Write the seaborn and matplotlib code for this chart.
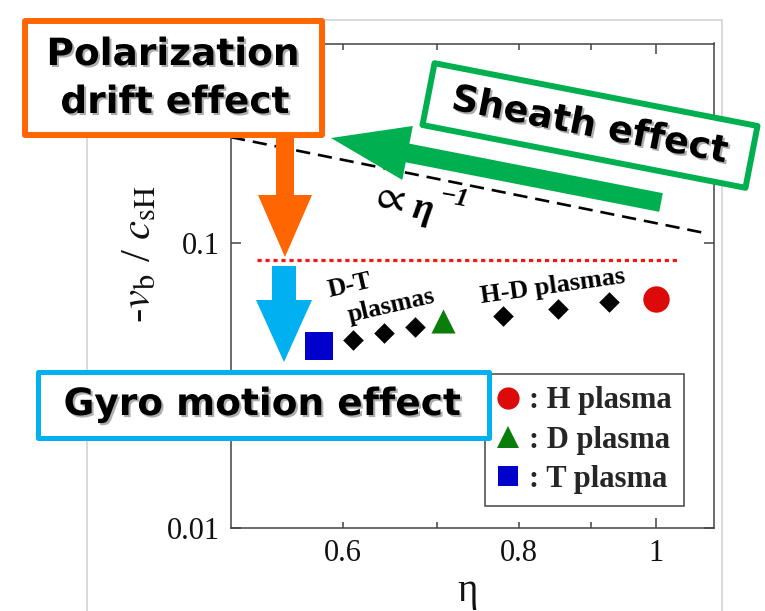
import matplotlib
matplotlib.use('Agg')
import matplotlib.pyplot as plt
import seaborn as sns
from matplotlib.patches import Rectangle, FancyArrow
from matplotlib.lines import Line2D
from matplotlib.ticker import FixedLocator, FixedFormatter, NullLocator
import matplotlib.patheffects as pe

# ---------------- data ----------------
eta_dt = [0.610, 0.642, 0.675]
vb_dt = [0.0458, 0.0481, 0.0507]
eta_hd = [0.780, 0.853, 0.927]
vb_hd = [0.0556, 0.0587, 0.0619]
eta_h = [1.0]
vb_h = [0.0636]
eta_d = [0.707]
vb_d = [0.0531]
eta_t = [0.577]
vb_t = [0.0433]
eta_ref = [0.5, 1.085]         # dashed  "∝ η^-1" guide line
vb_ref = [0.2346, 0.1081]
eta_lim = [0.522, 1.040]       # red dotted level
vb_lim = [0.087, 0.087]

xtick_major = [1]
xtick_major_labels = ['1']
xtick_minor = [0.6, 0.7, 0.8, 0.9]
xtick_minor_labels = ['0.6', '', '0.8', '']
ytick_vals = [0.01, 0.1]
ytick_labels = ['0.01', '0.1']
legend_labels = [': H plasma', ': D plasma', ': T plasma']

# ---------------- style ----------------
sns.set_theme(style='ticks')
plt.rcParams['font.family'] = ['Liberation Serif', 'DejaVu Serif']
plt.rcParams['mathtext.fontset'] = 'stix'

W, H = 765, 611
fig = plt.figure(figsize=(W / 100, H / 100), dpi=100)
fig.patch.set_facecolor('white')
ax = fig.add_axes([231 / W, (H - 528) / H, (714 - 231) / W, (528 - 43.5) / H])

RED, GREEN, BLUE = '#dd0a0a', '#0b7d0b', '#0000cc'

# outer light-gray frame of the embedded figure
fig.add_artist(Rectangle((0.87, -0.3), 6.35, (H - 19.5) / 100 + 0.3, fill=False,
                         ec='#cfcfcf', lw=1.1, transform=fig.dpi_scale_trans, zorder=0))

# ---------------- lines ----------------
sns.lineplot(x=eta_ref, y=vb_ref, ax=ax, color='black', lw=1.9,
             linestyle=(0, (5.4, 3.0)), estimator=None, sort=False, zorder=2)
sns.lineplot(x=eta_lim, y=vb_lim, ax=ax, color='#ff1010', lw=2.3,
             linestyle=(0, (1.3, 1.2)), estimator=None, sort=False, zorder=2)

# ---------------- points ----------------
sns.scatterplot(x=eta_dt + eta_hd, y=vb_dt + vb_hd, marker='D', s=110,
                color='black', linewidth=0, ax=ax, zorder=3)
sns.scatterplot(x=eta_h, y=vb_h, marker='o', s=361, color=RED, linewidth=0, ax=ax, zorder=3)
sns.scatterplot(x=eta_d, y=vb_d, marker='^', s=300, color=GREEN, linewidth=0, ax=ax, zorder=3)
sns.scatterplot(x=eta_t, y=vb_t, marker='s', s=400, color=BLUE, linewidth=0, ax=ax, zorder=3)

# ---------------- axes ----------------
ax.set_xscale('log')
ax.set_yscale('log')
ax.set_xlim(0.5, 1.1)
ax.set_ylim(0.01, 0.5)
ax.xaxis.set_major_locator(FixedLocator(xtick_major))
ax.xaxis.set_major_formatter(FixedFormatter(xtick_major_labels))
ax.xaxis.set_minor_locator(FixedLocator(xtick_minor))
ax.xaxis.set_minor_formatter(FixedFormatter(xtick_minor_labels))
ax.yaxis.set_major_locator(FixedLocator(ytick_vals))
ax.yaxis.set_major_formatter(FixedFormatter(ytick_labels))
ax.yaxis.set_minor_locator(NullLocator())
ax.tick_params(which='both', direction='in', top=True, right=True, color='#444444',
               labelcolor='#111111', labelsize=22, width=1.1)
ax.tick_params(which='major', length=7, pad=8)
ax.tick_params(which='minor', length=4.3, pad=8)
for s in ax.spines.values():
    s.set_color('#444444')
    s.set_linewidth(1.1)

ax.set_xlabel('η', fontsize=28, color='#111111')
ax.xaxis.set_label_coords(0.489, -0.093)
ax.set_ylabel(r'-$\mathit{v}_{\mathrm{b}}$ / $\mathit{c}_{\mathrm{sH}}$', fontsize=31, color='#111111')
ax.yaxis.set_label_coords(-0.148, 0.565)

# ---------------- legend ----------------
handles = [Line2D([], [], ls='', marker='o', color=RED, ms=16, mew=0),
           Line2D([], [], ls='', marker='^', color=GREEN, ms=16, mew=0),
           Line2D([], [], ls='', marker='s', color=BLUE, ms=14.5, mew=0)]
leg = ax.legend(handles, legend_labels, loc='upper left',
                bbox_to_anchor=(485 / W, 1 - 374 / H), bbox_transform=fig.transFigure,
                frameon=True, fancybox=False, edgecolor='#444444', framealpha=1,
                borderaxespad=0, prop={'weight': 'bold', 'size': 22},
                handlelength=0.72, handletextpad=0.32, labelspacing=0.34, borderpad=0.4)
leg.get_frame().set_linewidth(1.1)
leg.set_zorder(5)

# ---------------- annotations (figure pixel coordinates) ----------------
def fx(x):
    return x / W


def fy(y):
    return 1 - y / H


def arrow(x0, y0, x1, y1, w, hw, hl, color):
    a = FancyArrow(x0 / 100, (H - y0) / 100, (x1 - x0) / 100, -(y1 - y0) / 100,
                   width=w / 100, head_width=hw / 100, head_length=hl / 100,
                   length_includes_head=True, transform=fig.dpi_scale_trans,
                   color=color, lw=0, zorder=4)
    fig.add_artist(a)


shadow = [pe.withSimplePatchShadow(offset=(1.5, -1.5), shadow_rgbFace='#777777', alpha=0.6)]
box_font = dict(family='DejaVu Sans', weight='bold', size=27, color='black')

# arrows
arrow(661, 202.5, 331, 138, 19, 55, 78, '#00b050')
arrow(285, 136, 285, 257, 18, 54, 62, '#ff6600')
arrow(284, 266, 284, 362, 24, 56, 62, '#00b0f0')

# orange box
fig.add_artist(Rectangle((24.7 / 100, (H - 135) / 100), (322 - 24.7) / 100, (135 - 21.3) / 100,
                         fc='white', ec='#ff6600', lw=4.3, joinstyle='round',
                         transform=fig.dpi_scale_trans, zorder=6))
fig.text(fx(173), fy(65), 'Polarization', ha='center', va='baseline', zorder=7,
         path_effects=shadow, **box_font)
fig.text(fx(175), fy(113), 'drift effect', ha='center', va='baseline', zorder=7,
         path_effects=shadow, **box_font)

# gyro box
fig.add_artist(Rectangle((37.5 / 100, (H - 437.5) / 100), (489 - 37.5) / 100, (437.5 - 371.8) / 100,
                         fc='white', ec='#00b0f0', lw=3.6, joinstyle='round',
                         transform=fig.dpi_scale_trans, zorder=6))
fig.text(fx(262.5), fy(415), 'Gyro motion effect', ha='center', va='baseline', zorder=7,
         path_effects=shadow, **box_font)

# sheath box (rotated)
cx, cy, bw, bh = 590, 125.5, 329, 63
fig.add_artist(Rectangle(((cx - bw / 2) / 100, (H - cy - bh / 2) / 100), bw / 100, bh / 100,
                         angle=-11, rotation_point='center',
                         fc='white', ec='#00b050', lw=4.3, joinstyle='round',
                         transform=fig.dpi_scale_trans, zorder=6))
fig.text(fx(cx), fy(cy), 'Sheath effect', ha='center', va='center', rotation=-11,
         rotation_mode='anchor', zorder=7, path_effects=shadow,
         family='DejaVu Sans', weight='bold', size=26.5, color='black')

# in-plot labels
fig.text(fx(387), fy(198), r'$\propto$', ha='center', va='center', rotation=-10,
         rotation_mode='anchor', fontsize=30, color='black')
fig.text(fx(422), fy(210), 'η', ha='center', va='center', rotation=-10,
         rotation_mode='anchor', fontsize=27, weight='bold', style='italic', color='black')
fig.text(fx(454), fy(198), '−1', ha='center', va='center', rotation=-10,
         rotation_mode='anchor', fontsize=19, weight='bold', style='italic', color='black')
fig.text(fx(350), fy(286), 'D-T', ha='center', va='center', rotation=13,
         rotation_mode='anchor', fontsize=18.5, weight='bold', color='black')
fig.text(fx(391), fy(306), 'plasmas', ha='center', va='center', rotation=13,
         rotation_mode='anchor', fontsize=18.5, weight='bold', color='black')
fig.text(fx(553), fy(286), 'H-D plasmas', ha='center', va='center', rotation=8,
         rotation_mode='anchor', fontsize=19, weight='bold', color='black')

fig.savefig('out.png', dpi=100, facecolor='white')
